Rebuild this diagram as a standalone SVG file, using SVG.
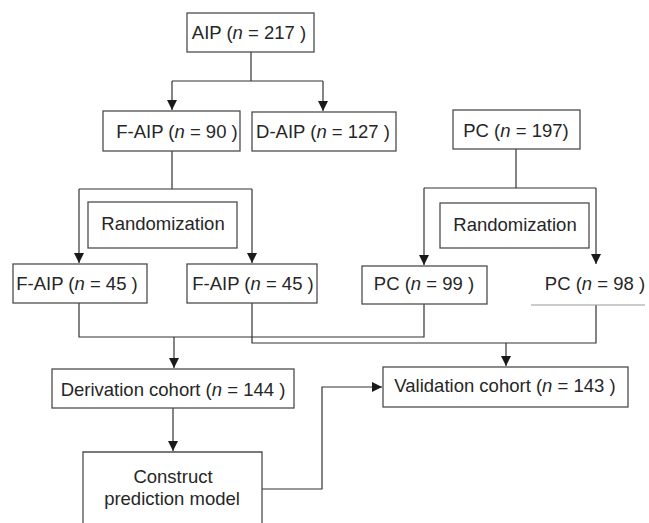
<svg xmlns="http://www.w3.org/2000/svg" width="649" height="523" viewBox="0 0 649 523">
<defs>
<style>
.box{fill:#fff;stroke:#4d4d4d;stroke-width:1.3}
.t{font-family:"Liberation Sans",Arial,sans-serif;font-size:18.5px;fill:#262626;text-anchor:middle}
.c{fill:none;stroke:#333;stroke-width:1.2}
.ah{fill:#1a1a1a;stroke:none}
</style>
<marker id="arr" markerWidth="11" markerHeight="10" refX="10" refY="5" orient="auto" markerUnits="userSpaceOnUse">
<path class="ah" d="M0,0 L10,5 L0,10 Z"/>
</marker>
</defs>
<rect width="649" height="523" fill="#fff"/>
<g id="connectors">
<path class="c" d="M251,52 V81 M172,81 H323" />
<path class="c" d="M172,81 V110" marker-end="url(#arr)"/>
<path class="c" d="M323,81 V111" marker-end="url(#arr)"/>
<path class="c" d="M172,151 V189 M79,189 H252"/>
<path class="c" d="M79,189 V263" marker-end="url(#arr)"/>
<path class="c" d="M252,189 V263" marker-end="url(#arr)"/>
<path class="c" d="M516,149 V188 M424,188 H596"/>
<path class="c" d="M424,188 V265" marker-end="url(#arr)"/>
<path class="c" d="M596,188 V264" marker-end="url(#arr)"/>
<path class="c" d="M79,303 V337 H424 V304"/>
<path class="c" d="M252,303 V343 H596 V305"/>
<path class="c" d="M174,337 V368" marker-end="url(#arr)"/>
<path class="c" d="M506,343 V366" marker-end="url(#arr)"/>
<path class="c" d="M173,408 V451" marker-end="url(#arr)"/>
<path class="c" d="M262,489 H322 V387 H382" marker-end="url(#arr)"/>
<path d="M531,305 H645" stroke="#999" stroke-width="1.2" fill="none"/>
</g>
<g id="aip"><rect class="box" x="187" y="13" width="127" height="39"/><text class="t" x="249" y="39">AIP (<tspan font-style="italic">n</tspan> = 217 )</text></g>
<g id="faip90"><rect class="box" x="103" y="111" width="137" height="40"/><text class="t" x="177" y="138">F-AIP (<tspan font-style="italic">n</tspan> = 90 )</text></g>
<g id="daip127"><rect class="box" x="252" y="112" width="144" height="39"/><text class="t" x="323" y="138">D-AIP (<tspan font-style="italic">n</tspan> = 127 )</text></g>
<g id="pc197"><rect class="box" x="453" y="110" width="127" height="39"/><text class="t" x="516" y="137">PC (<tspan font-style="italic">n</tspan> = 197)</text></g>
<g id="rand1"><rect class="box" x="88" y="202" width="149" height="46"/><text class="t" x="163" y="230">Randomization</text></g>
<g id="rand2"><rect class="box" x="440" y="203" width="149" height="45"/><text class="t" x="515" y="231">Randomization</text></g>
<g id="faip45a"><rect class="box" x="13" y="264" width="134" height="39"/><text class="t" x="77" y="290">F-AIP (<tspan font-style="italic">n</tspan> = 45 )</text></g>
<g id="faip45b"><rect class="box" x="187" y="264" width="130" height="39"/><text class="t" x="253" y="290">F-AIP (<tspan font-style="italic">n</tspan> = 45 )</text></g>
<g id="pc99"><rect class="box" x="362" y="266" width="125" height="38"/><text class="t" x="424" y="290">PC (<tspan font-style="italic">n</tspan> = 99 )</text></g>
<g id="pc98"><text class="t" x="595" y="290">PC (<tspan font-style="italic">n</tspan> = 98 )</text></g>
<g id="derivation"><rect class="box" x="52" y="369" width="242" height="39"/><text class="t" x="173" y="396">Derivation cohort (<tspan font-style="italic">n</tspan> = 144 )</text></g>
<g id="validation"><rect class="box" x="383" y="367" width="245" height="40"/><text class="t" x="505" y="392">Validation cohort (<tspan font-style="italic">n</tspan> = 143 )</text></g>
<g id="construct"><path class="box" d="M83,524 V452 H262 V524"/><text class="t" x="173" y="483">Construct</text><text class="t" x="172" y="505">prediction model</text></g>
</svg>
